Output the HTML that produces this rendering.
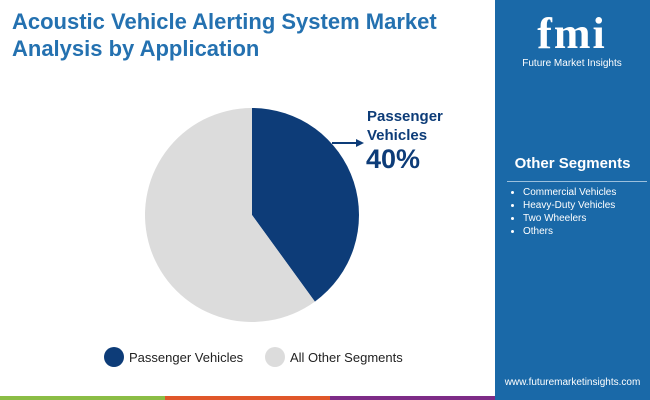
<!DOCTYPE html>
<html><head><meta charset="utf-8"><style>
body{margin:0;width:650px;height:400px;overflow:hidden;background:#fff;font-family:"Liberation Sans",sans-serif;position:relative}
.title{position:absolute;left:12px;top:8px;font-size:22px;font-weight:bold;color:#2471b0;line-height:27px}
.side{position:absolute;left:495px;top:0;width:155px;height:400px;background:#1a69a8}
</style></head><body>
<div class="title">Acoustic Vehicle Alerting System Market<br>Analysis by Application</div>
<div class="side">
 <div style="position:absolute;left:22px;top:10px;width:110px;text-align:center;color:#fff">
  <div style="font-size:44px;font-weight:bold;font-family:'Liberation Serif',serif;line-height:48px;letter-spacing:2px">fmi</div>
  <div style="font-size:10px">Future Market Insights</div>
 </div>
 <div style="position:absolute;left:0;width:155px;top:155px;text-align:center;color:#fff;font-weight:bold;font-size:15px">Other Segments</div>
 <div style="position:absolute;left:12px;top:181px;width:140px;height:1px;background:#9cc0dd"></div>
 <ul style="position:absolute;left:0;top:186px;margin:0;padding-left:28px;color:#fff;font-size:10px;line-height:13px">
  <li>Commercial Vehicles</li><li>Heavy-Duty Vehicles</li><li>Two Wheelers</li><li>Others</li>
 </ul>
 <div style="position:absolute;left:0;width:155px;top:377px;text-align:center;color:#fff;font-size:10px">www.futuremarketinsights.com</div>
</div>
<div style="position:absolute;left:0;top:396px;width:165px;height:4px;background:#8bbd45"></div>
<div style="position:absolute;left:165px;top:396px;width:165px;height:4px;background:#e0572a"></div>
<div style="position:absolute;left:330px;top:396px;width:165px;height:4px;background:#7e2c87"></div>
<svg id="chart" width="495" height="396" style="position:absolute;left:0;top:0"></svg>
<script>
const categories=["Passenger Vehicles","All Other Segments"];
const values=[40,60];
const colors=["#0d3c78","#dcdcdc"];
const svg=document.getElementById('chart');
const NS="http://www.w3.org/2000/svg";
const cx=252,cy=215,r=107;
const total=values.reduce((a,b)=>a+b,0);
let a0=0;
function pt(a){return [cx+r*Math.sin(a),cy-r*Math.cos(a)];}
values.forEach((v,i)=>{
 const a1=a0+v/total*2*Math.PI;
 const p0=pt(a0),p1=pt(a1);
 const p=document.createElementNS(NS,'path');
 p.setAttribute('d',`M${cx},${cy}L${p0[0]},${p0[1]}A${r},${r} 0 ${a1-a0>Math.PI?1:0} 1 ${p1[0]},${p1[1]}Z`);
 p.setAttribute('fill',colors[i]);
 
 
 svg.appendChild(p);
 a0=a1;
});
// annotation
const ann=document.createElementNS(NS,'g');


ann.innerHTML=`<line x1="332" y1="143" x2="358" y2="143" stroke="#0d3c78" stroke-width="2"/>
<polygon points="364,143 356,139 356,147" fill="#0d3c78"/>
<text x="367" y="121" font-size="15" font-weight="bold" fill="#0d3c78">Passenger</text>
<text x="367" y="140" font-size="15" font-weight="bold" fill="#0d3c78">Vehicles</text>
<text x="366" y="168" font-size="27" font-weight="bold" fill="#0d3c78">${values[0]}%</text>`;
svg.appendChild(ann);
// legend
const lx=[103,264];
categories.forEach((c,i)=>{
 const g=document.createElementNS(NS,'g');
 
 
 g.innerHTML=`<circle cx="${lx[i]+11}" cy="357" r="10" fill="${colors[i]}"/><text x="${lx[i]+26}" y="362" font-size="13" fill="#222">${c}</text>`;
 svg.appendChild(g);
});
</script>
</body></html>
